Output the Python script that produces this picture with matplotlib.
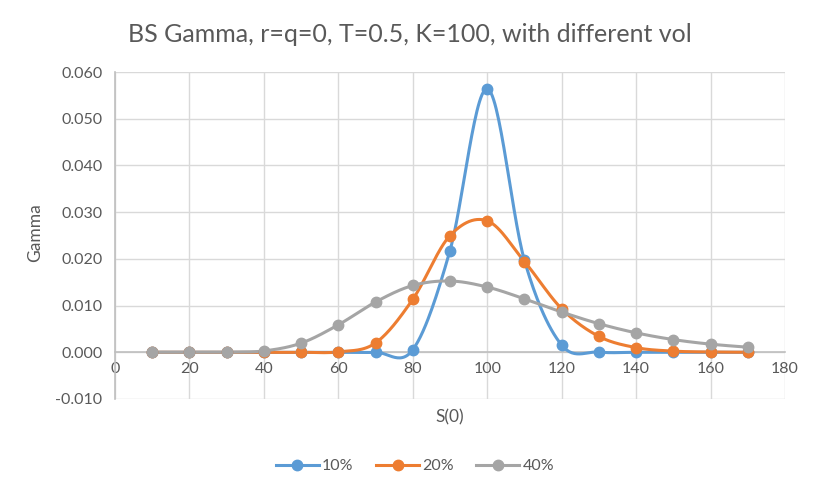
import numpy as np
import matplotlib
matplotlib.use("Agg")
import matplotlib.pyplot as plt

plt.rcParams['font.family'] = ['Lato', 'DejaVu Sans']

s_values = [10, 20, 30, 40, 50, 60, 70, 80, 90, 100, 110, 120, 130, 140, 150, 160, 170]
gamma_10 = [0.0, 0.0, 0.0, 0.0, 0.0, 0.0, 0.0, 0.00054, 0.02178, 0.05640, 0.01968, 0.00154, 0.00004, 0.0, 0.0, 0.0, 0.0]
gamma_20 = [0.0, 0.0, 0.0, 0.0, 0.0, 0.00009, 0.00200, 0.01134, 0.02498, 0.02814, 0.01942, 0.00932, 0.00340, 0.00100, 0.00025, 0.00006, 0.00001]
gamma_40 = [0.0, 0.0, 0.00001, 0.00029, 0.00196, 0.00588, 0.01077, 0.01430, 0.01526, 0.01397, 0.01144, 0.00862, 0.00612, 0.00416, 0.00272, 0.00174, 0.00109]
series_labels = ['10%', '20%', '40%']
colors = ['#5B9BD5', '#ED7D31', '#A5A5A5']


def smooth(x, y, n=30):
    x = np.asarray(x, float)
    y = np.asarray(y, float)
    P = np.column_stack([x, y])
    out = []
    for i in range(len(P) - 1):
        p0 = P[i - 1] if i > 0 else P[i]
        p1 = P[i]
        p2 = P[i + 1]
        p3 = P[i + 2] if i + 2 < len(P) else P[i + 1]
        c1 = p1 + (p2 - p0) / 6.0
        c2 = p2 - (p3 - p1) / 6.0
        t = np.linspace(0, 1, n)[:, None]
        b = ((1 - t) ** 3) * p1 + 3 * ((1 - t) ** 2) * t * c1 + 3 * (1 - t) * t ** 2 * c2 + t ** 3 * p2
        out.append(b if i == 0 else b[1:])
    b = np.vstack(out)
    return b[:, 0], b[:, 1]


W, H = 819, 496
fig = plt.figure(figsize=(W / 100, H / 100), dpi=100)
ax = fig.add_axes([115 / W, (H - 399) / H, 670 / W, 327 / H])

for ys, lab, c in zip([gamma_10, gamma_20, gamma_40], series_labels, colors):
    sx, sy = smooth(s_values, ys)
    ax.plot(sx, sy, color=c, lw=2.2, solid_capstyle='round', zorder=3)
    ax.plot(s_values, ys, 'o', color=c, ms=7.5, zorder=4)
    ax.plot([], [], '-o', color=c, lw=2.2, ms=7.5, label=lab)

ax.set_xlim(0, 180)
ax.set_ylim(-0.010, 0.060)
ax.set_xticks(np.arange(0, 181, 20))
ax.set_yticks(np.arange(-0.010, 0.0601, 0.010))
ax.yaxis.set_major_formatter(matplotlib.ticker.FuncFormatter(lambda v, p: f"{v:.3f}"))
ax.grid(True, color='#D9D9D9', lw=1.0, zorder=0)
ax.set_axisbelow(True)
for sp in ['top', 'right']:
    ax.spines[sp].set_visible(False)
ax.spines['bottom'].set_position(('data', 0))
ax.spines['bottom'].set_color('#BFBFBF')
ax.spines['left'].set_color('#BFBFBF')
ax.spines['bottom'].set_linewidth(1.2)
ax.spines['left'].set_linewidth(1.2)
ax.spines['bottom'].set_zorder(2)
ax.tick_params(length=0, labelsize=11.5, colors='#595959', pad=7)
ax.tick_params(axis='y', pad=9)

fig.text(450 / W, 1 - 417 / H, 'S(0)', ha='center', va='center', fontsize=12.5, color='#595959')
fig.text(35 / W, 1 - 233 / H, 'Gamma', ha='center', va='center', rotation=90, fontsize=12.5, color='#595959')
fig.text(410 / W, 1 - 35 / H, 'BS Gamma, r=q=0, T=0.5, K=100, with different vol', ha='center', va='center',
         fontsize=18, color='#595959')

leg = fig.legend(loc='center', bbox_to_anchor=(415 / W, 1 - 466 / H), ncol=3, frameon=False,
                 fontsize=11.5, handlelength=2.7, columnspacing=1.4, handletextpad=0.2)
for t in leg.get_texts():
    t.set_color('#595959')

fig.savefig('out.png', dpi=100)
